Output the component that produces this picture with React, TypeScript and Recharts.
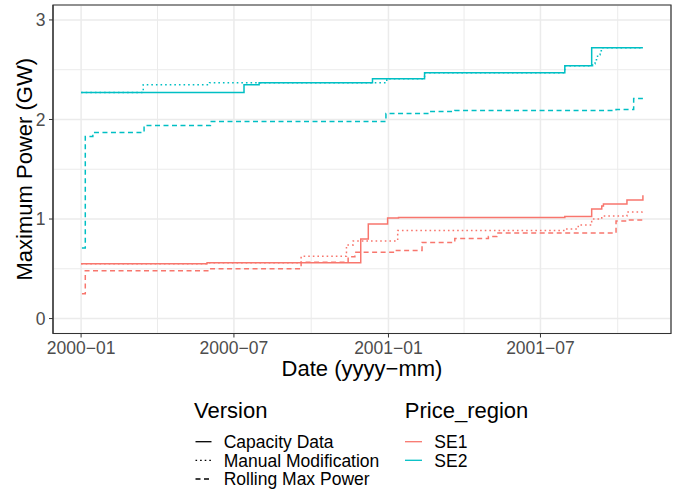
import React from 'react'
import { LineChart, Line, XAxis, YAxis, CartesianGrid, ReferenceArea, Label } from 'recharts'

// step series: [date, GW]
const se1Capacity: [string, number][] = [
  ['2000-01-01', 0.55], ['2000-05-30', 0.56], ['2000-11-29', 0.8], ['2000-12-08', 0.95],
  ['2000-12-31', 1.01], ['2001-01-13', 1.015], ['2001-07-30', 1.025], ['2001-08-31', 1.1],
  ['2001-09-12', 1.13], ['2001-09-14', 1.15], ['2001-10-12', 1.19], ['2001-10-31', 1.24]
]
const se1Manual: [string, number][] = [
  ['2000-01-01', 0.55], ['2000-05-30', 0.56], ['2000-09-19', 0.625], ['2000-11-12', 0.74],
  ['2000-11-20', 0.78], ['2001-01-12', 0.885], ['2001-07-30', 0.9], ['2001-08-15', 0.94],
  ['2001-08-31', 1.0], ['2001-09-12', 1.03], ['2001-10-12', 1.07], ['2001-10-30', 1.085],
  ['2001-10-31', 1.085]
]
const se1Rolling: [string, number][] = [
  ['2000-01-02', 0.25], ['2000-01-06', 0.48], ['2000-06-02', 0.5], ['2000-09-19', 0.565],
  ['2000-11-14', 0.62], ['2000-11-22', 0.665], ['2001-01-09', 0.685], ['2001-02-10', 0.765],
  ['2001-03-21', 0.805], ['2001-04-30', 0.825], ['2001-05-10', 0.86], ['2001-09-29', 0.98],
  ['2001-10-12', 0.99], ['2001-10-31', 0.99]
]
const se2Capacity: [string, number][] = [
  ['2000-01-01', 2.27], ['2000-07-13', 2.35], ['2000-07-31', 2.37], ['2000-12-13', 2.41],
  ['2001-02-13', 2.47], ['2001-07-30', 2.54], ['2001-08-31', 2.72], ['2001-10-31', 2.72]
]
const se2Manual: [string, number][] = [
  ['2000-01-01', 2.27], ['2000-03-15', 2.35], ['2000-06-02', 2.37], ['2000-12-30', 2.41],
  ['2001-02-13', 2.47], ['2001-07-30', 2.54], ['2001-09-01', 2.56], ['2001-09-04', 2.6],
  ['2001-09-07', 2.65], ['2001-09-10', 2.69], ['2001-09-13', 2.72], ['2001-10-31', 2.72]
]
const se2Rolling: [string, number][] = [
  ['2000-01-02', 0.71], ['2000-01-06', 1.83], ['2000-01-15', 1.87], ['2000-03-16', 1.94],
  ['2000-06-03', 1.98], ['2000-12-29', 2.06], ['2001-02-19', 2.08], ['2001-03-21', 2.09],
  ['2001-09-29', 2.1], ['2001-10-20', 2.21], ['2001-10-31', 2.21]
]

const majorDates = ['2000-01-01', '2000-07-01', '2001-01-01', '2001-07-01']
const minorDates = ['2000-04-01', '2000-10-01', '2001-04-01', '2001-10-01']
const yTicks = [0, 1, 2, 3]
const yMinorTicks = [0.5, 1.5, 2.5]
const yLimits = [0, 3]

const versions = ['Capacity Data', 'Manual Modification', 'Rolling Max Power']
const regions = ['SE1', 'SE2']

const COLORS: Record<string, string> = { SE1: '#F8766D', SE2: '#00BFC4' }
const DASHES: Record<string, string | undefined> = {
  'Capacity Data': undefined,
  'Manual Modification': '1.6 3',
  'Rolling Max Power': '5 3.5'
}

const ts = (d: string) => new Date(d + 'T00:00:00Z').getTime()
const toRows = (s: [string, number][]) => s.map(([d, v]) => ({ t: ts(d), v }))

const series = [
  { region: 'SE1', version: 'Capacity Data', data: toRows(se1Capacity) },
  { region: 'SE1', version: 'Manual Modification', data: toRows(se1Manual) },
  { region: 'SE1', version: 'Rolling Max Power', data: toRows(se1Rolling) },
  { region: 'SE2', version: 'Capacity Data', data: toRows(se2Capacity) },
  { region: 'SE2', version: 'Manual Modification', data: toRows(se2Manual) },
  { region: 'SE2', version: 'Rolling Max Power', data: toRows(se2Rolling) }
]

// ggplot-style 5% expansion
const allT = series.flatMap(s => s.data.map(r => r.t))
const tMin = Math.min(...allT)
const tMax = Math.max(...allT)
const tPad = (tMax - tMin) * 0.05
const xDomain = [tMin - tPad, tMax + tPad]
const yPad = (yLimits[1] - yLimits[0]) * 0.05
const yDomain = [yLimits[0] - yPad, yLimits[1] + yPad]

const fmtDate = (v: number) => {
  const d = new Date(v)
  return `${d.getUTCFullYear()}\u2212${String(d.getUTCMonth() + 1).padStart(2, '0')}`
}

const FONT = '"Liberation Sans", Arial, sans-serif'
const tickStyle = { fill: '#4D4D4D', fontSize: 17.5, fontFamily: FONT }

const Legends = () => {
  const itemY = [441.7, 460.3, 479]
  return (
    <svg width={681} height={491} style={{ position: 'absolute', left: 0, top: 0, pointerEvents: 'none' }}>
      <g fontFamily={FONT}>
        <text x={194} y={418} fontSize={22} fill="#000">Version</text>
        {versions.map((v, i) => (
          <g key={v}>
            <line x1={195.5} x2={211.5} y1={itemY[i]} y2={itemY[i]} stroke="#000" strokeWidth={1.3} strokeDasharray={DASHES[v]} />
            <text x={223.7} y={itemY[i] + 6.3} fontSize={17.5} fill="#000">{v}</text>
          </g>
        ))}
        <text x={404.8} y={418} fontSize={22} fill="#000">Price_region</text>
        {regions.map((r, i) => (
          <g key={r}>
            <line x1={405} x2={422} y1={itemY[i]} y2={itemY[i]} stroke={COLORS[r]} strokeWidth={1.3} />
            <text x={434.3} y={itemY[i] + 6.3} fontSize={17.5} fill="#000">{r}</text>
          </g>
        ))}
      </g>
    </svg>
  )
}

export default function App() {
  return (
    <div style={{ position: 'absolute', left: 0, top: 0, width: 681, height: 491, background: '#fff', fontFamily: FONT }}>
      <LineChart width={681} height={491} margin={{ top: 5, right: 10, left: 0, bottom: 115.5 }}>
        <XAxis xAxisId="minor" type="number" dataKey="t" domain={xDomain} allowDataOverflow hide
          ticks={minorDates.map(ts)} interval={0} />
        <YAxis yAxisId="minor" type="number" domain={yDomain} allowDataOverflow hide ticks={yMinorTicks} interval={0} />
        <CartesianGrid xAxisId="minor" yAxisId="minor" stroke="#EBEBEB" strokeWidth={1} />
        <CartesianGrid stroke="#EBEBEB" strokeWidth={1.5} />
        <XAxis
          type="number"
          dataKey="t"
          domain={xDomain}
          allowDataOverflow
          ticks={majorDates.map(ts)}
          interval={0}
          tickFormatter={fmtDate}
          tick={tickStyle}
          tickSize={4}
          tickMargin={4}
          tickLine={{ stroke: '#333' }}
          axisLine={{ stroke: '#333' }}
          height={42}
        >
          <Label
            content={({ viewBox }: any) => (
              <text x={viewBox.x + viewBox.width / 2} y={375.5} textAnchor="middle" fontSize={22} fontFamily={FONT} fill="#000">
                Date (yyyy{'\u2212'}mm)
              </text>
            )}
          />
        </XAxis>
        <YAxis
          type="number"
          domain={yDomain}
          allowDataOverflow
          ticks={yTicks}
          interval={0}
          tick={tickStyle}
          tickSize={4}
          tickMargin={3.5}
          tickLine={{ stroke: '#333' }}
          axisLine={{ stroke: '#333' }}
          width={53}
        >
          <Label
            content={({ viewBox }: any) => {
              const cy = viewBox.y + viewBox.height / 2
              return (
                <text x={31.5} y={cy} transform={`rotate(-90, 31.5, ${cy})`} textAnchor="middle" fontSize={22} fontFamily={FONT} fill="#000">
                  Maximum Power (GW)
                </text>
              )
            }}
          />
        </YAxis>
        {series.map(s => (
          <Line
            key={s.region + s.version}
            data={s.data}
            dataKey="v"
            type="stepAfter"
            stroke={COLORS[s.region]}
            strokeWidth={1.5}
            strokeDasharray={DASHES[s.version]}
            dot={false}
            activeDot={false}
            isAnimationActive={false}
          />
        ))}
        <ReferenceArea x1={xDomain[0]} x2={xDomain[1]} y1={yDomain[0]} y2={yDomain[1]} fill="none" stroke="#333" strokeWidth={1.2} fillOpacity={0} />
      </LineChart>
      <Legends />
    </div>
  )
}
